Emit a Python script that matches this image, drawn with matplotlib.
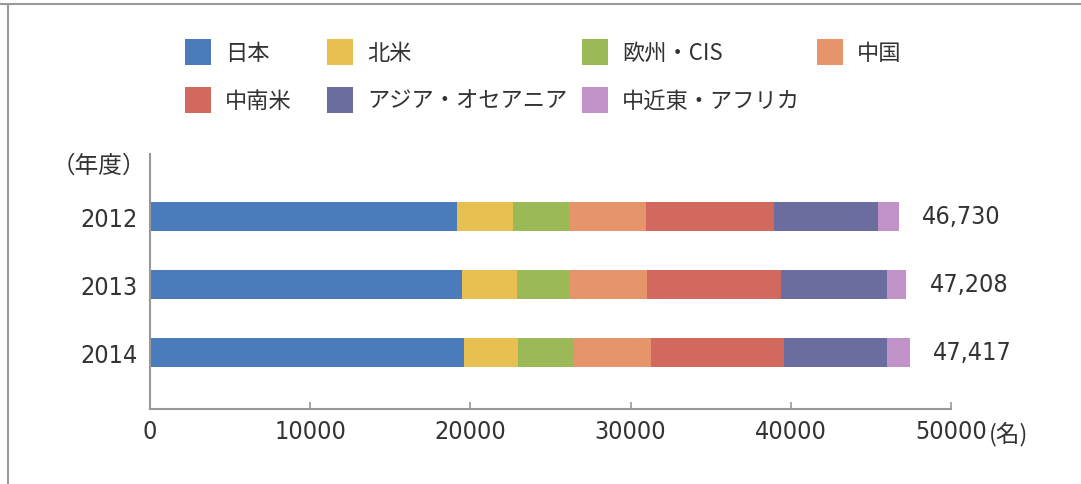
import matplotlib
matplotlib.use("Agg")
import matplotlib.pyplot as plt
from matplotlib.patches import Rectangle
from matplotlib.lines import Line2D
import numpy as np

years = ["2012", "2013", "2014"]
regions = ["日本", "北米", "欧州・CIS", "中国", "中南米", "アジア・オセアニア", "中近東・アフリカ"]
japan = [19190, 19500, 19625]
north_america = [3500, 3380, 3375]
europe_cis = [3440, 3250, 3440]
china = [4810, 4870, 4810]
latin_america = [8000, 8380, 8310]
asia_oceania = [6500, 6620, 6440]
middle_east_africa = [1290, 1208, 1417]
series = [japan, north_america, europe_cis, china, latin_america, asia_oceania, middle_east_africa]
colors = ["#4a7cbb", "#e8c052", "#9cb957", "#e6946a", "#d2695f", "#6b6d9f", "#c193c9"]
xticks = [0, 10000, 20000, 30000, 40000, 50000]

W, H = 1081, 485
fig = plt.figure(figsize=(W / 100, H / 100), dpi=100)
CJK = ["Noto Sans CJK JP", "DejaVu Sans"]
NUMPROPS = dict(family="DejaVu Sans", stretch="condensed")
TXT = "#333333"

def fx(px):
    return px / W

def fy(py):
    return 1 - py / H

ax = fig.add_axes([fx(150), fy(410), fx(951) - fx(150), fy(155) - fy(410)])
pos = np.arange(len(years))
left = np.zeros(len(years))
for vals, col in zip(series, colors):
    ax.barh(pos, vals, left=left, height=0.426, color=col, edgecolor="none")
    left = left + np.array(vals)

for p, tot in zip(pos, left):
    ax.annotate(f"{int(tot):,}", xy=(tot, p), xytext=(17, 0), textcoords="offset points",
                va="center", ha="left", fontsize=18, color=TXT, **NUMPROPS)

ax.set_xlim(0, 50000)
ax.set_ylim(2.831, -0.919)
ax.set_yticks(pos)
ax.set_yticklabels(years, fontsize=18, color=TXT, **NUMPROPS)
ax.set_xticks(xticks)
ax.set_xticklabels([str(t) for t in xticks], fontsize=18, color=TXT, **NUMPROPS)
ax.tick_params(axis="y", length=0, pad=9)
ax.tick_params(axis="x", direction="in", length=5, width=1.2, color="#999999", pad=7)
for s in ["top", "right"]:
    ax.spines[s].set_visible(False)
for s in ["left", "bottom"]:
    ax.spines[s].set_color("#999999")
    ax.spines[s].set_linewidth(1.5)

fig.text(fx(52), fy(166), "（年度）", ha="left", va="center", fontsize=17, family=CJK, color=TXT)
fig.text(fx(989), fy(434), "(名)", ha="left", va="center", fontsize=17, family=CJK, color=TXT)

# legend
legend_pos = [(185, 53), (327, 53), (582, 53), (817, 53), (185, 101), (327, 101), (582, 101)]
for lab, col, (sx, cy) in zip(regions, colors, legend_pos):
    fig.add_artist(Rectangle((fx(sx), fy(cy + 13)), fx(26), 26 / H, transform=fig.transFigure,
                             facecolor=col, edgecolor="none"))
    fig.text(fx(sx + 40), fy(cy), lab, ha="left", va="center", fontsize=16, family=CJK, color=TXT)

# frame
fig.add_artist(Line2D([0, 1], [fy(5), fy(5)], transform=fig.transFigure, color="#999999", lw=1.5))
fig.add_artist(Line2D([fx(8), fx(8)], [0, fy(5)], transform=fig.transFigure, color="#999999", lw=1.5))

fig.savefig("out.png", dpi=100)
